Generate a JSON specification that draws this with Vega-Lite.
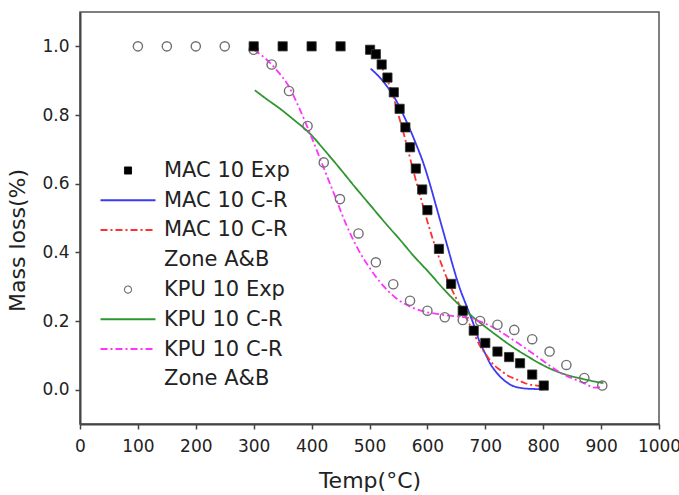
{
  "$schema": "https://vega.github.io/schema/vega-lite/v6.json",
  "width": 579,
  "height": 412,
  "autosize": "none",
  "padding": {"left": 80, "top": 12, "right": 20, "bottom": 71},
  "background": "white",
  "config": {
    "font": "DejaVu Sans",
    "view": {"stroke": "#555", "strokeWidth": 1.5},
    "axis": {
      "grid": false,
      "domainColor": "#444",
      "domainWidth": 2,
      "tickColor": "#444",
      "tickWidth": 1.5,
      "tickSize": 5,
      "labelFont": "DejaVu Sans",
      "labelFontSize": 17,
      "labelColor": "#222",
      "titleFont": "DejaVu Sans",
      "titleFontSize": 22,
      "titleFontWeight": "normal",
      "titleColor": "#222"
    }
  },
  "datasets": {
    "pts": [
      {"series": "MAC 10 Exp", "temp": 300, "mass": 1.0},
      {"series": "MAC 10 Exp", "temp": 350, "mass": 1.0},
      {"series": "MAC 10 Exp", "temp": 400, "mass": 1.0},
      {"series": "MAC 10 Exp", "temp": 450, "mass": 1.0},
      {"series": "MAC 10 Exp", "temp": 501, "mass": 0.99},
      {"series": "MAC 10 Exp", "temp": 511, "mass": 0.977},
      {"series": "MAC 10 Exp", "temp": 521, "mass": 0.947},
      {"series": "MAC 10 Exp", "temp": 531, "mass": 0.909},
      {"series": "MAC 10 Exp", "temp": 542, "mass": 0.866},
      {"series": "MAC 10 Exp", "temp": 552, "mass": 0.818},
      {"series": "MAC 10 Exp", "temp": 562, "mass": 0.764},
      {"series": "MAC 10 Exp", "temp": 570, "mass": 0.706},
      {"series": "MAC 10 Exp", "temp": 580, "mass": 0.644},
      {"series": "MAC 10 Exp", "temp": 591, "mass": 0.583},
      {"series": "MAC 10 Exp", "temp": 600, "mass": 0.523},
      {"series": "MAC 10 Exp", "temp": 620, "mass": 0.41},
      {"series": "MAC 10 Exp", "temp": 641, "mass": 0.308},
      {"series": "MAC 10 Exp", "temp": 661, "mass": 0.23},
      {"series": "MAC 10 Exp", "temp": 680, "mass": 0.172},
      {"series": "MAC 10 Exp", "temp": 700, "mass": 0.136},
      {"series": "MAC 10 Exp", "temp": 721, "mass": 0.111},
      {"series": "MAC 10 Exp", "temp": 741, "mass": 0.095},
      {"series": "MAC 10 Exp", "temp": 760, "mass": 0.077},
      {"series": "MAC 10 Exp", "temp": 781, "mass": 0.044},
      {"series": "MAC 10 Exp", "temp": 801, "mass": 0.012}
    ],
    "circ": [
      {"series": "KPU 10 Exp", "temp": 100, "mass": 1.0},
      {"series": "KPU 10 Exp", "temp": 150, "mass": 1.0},
      {"series": "KPU 10 Exp", "temp": 200, "mass": 1.0},
      {"series": "KPU 10 Exp", "temp": 250, "mass": 1.0},
      {"series": "KPU 10 Exp", "temp": 300, "mass": 0.99},
      {"series": "KPU 10 Exp", "temp": 331, "mass": 0.947},
      {"series": "KPU 10 Exp", "temp": 361, "mass": 0.87},
      {"series": "KPU 10 Exp", "temp": 393, "mass": 0.768},
      {"series": "KPU 10 Exp", "temp": 421, "mass": 0.662},
      {"series": "KPU 10 Exp", "temp": 449, "mass": 0.555},
      {"series": "KPU 10 Exp", "temp": 481, "mass": 0.455},
      {"series": "KPU 10 Exp", "temp": 511, "mass": 0.371},
      {"series": "KPU 10 Exp", "temp": 541, "mass": 0.307},
      {"series": "KPU 10 Exp", "temp": 570, "mass": 0.259},
      {"series": "KPU 10 Exp", "temp": 600, "mass": 0.23},
      {"series": "KPU 10 Exp", "temp": 630, "mass": 0.211},
      {"series": "KPU 10 Exp", "temp": 661, "mass": 0.203},
      {"series": "KPU 10 Exp", "temp": 691, "mass": 0.2},
      {"series": "KPU 10 Exp", "temp": 721, "mass": 0.189},
      {"series": "KPU 10 Exp", "temp": 750, "mass": 0.174},
      {"series": "KPU 10 Exp", "temp": 781, "mass": 0.147},
      {"series": "KPU 10 Exp", "temp": 811, "mass": 0.111},
      {"series": "KPU 10 Exp", "temp": 840, "mass": 0.072},
      {"series": "KPU 10 Exp", "temp": 871, "mass": 0.034},
      {"series": "KPU 10 Exp", "temp": 902, "mass": 0.012}
    ],
    "lines": [
      {"series": "MAC 10 C-R", "temp": 502, "mass": 0.935},
      {"series": "MAC 10 C-R", "temp": 520, "mass": 0.905},
      {"series": "MAC 10 C-R", "temp": 535, "mass": 0.872},
      {"series": "MAC 10 C-R", "temp": 550, "mass": 0.83},
      {"series": "MAC 10 C-R", "temp": 560, "mass": 0.795},
      {"series": "MAC 10 C-R", "temp": 570, "mass": 0.758},
      {"series": "MAC 10 C-R", "temp": 580, "mass": 0.717},
      {"series": "MAC 10 C-R", "temp": 593, "mass": 0.66},
      {"series": "MAC 10 C-R", "temp": 605, "mass": 0.595},
      {"series": "MAC 10 C-R", "temp": 615, "mass": 0.535},
      {"series": "MAC 10 C-R", "temp": 625, "mass": 0.475},
      {"series": "MAC 10 C-R", "temp": 635, "mass": 0.415},
      {"series": "MAC 10 C-R", "temp": 645, "mass": 0.355},
      {"series": "MAC 10 C-R", "temp": 655, "mass": 0.3},
      {"series": "MAC 10 C-R", "temp": 668, "mass": 0.242},
      {"series": "MAC 10 C-R", "temp": 679, "mass": 0.194},
      {"series": "MAC 10 C-R", "temp": 691, "mass": 0.136},
      {"series": "MAC 10 C-R", "temp": 700, "mass": 0.105},
      {"series": "MAC 10 C-R", "temp": 708, "mass": 0.077},
      {"series": "MAC 10 C-R", "temp": 717, "mass": 0.055},
      {"series": "MAC 10 C-R", "temp": 725, "mass": 0.039},
      {"series": "MAC 10 C-R", "temp": 735, "mass": 0.024},
      {"series": "MAC 10 C-R", "temp": 745, "mass": 0.013},
      {"series": "MAC 10 C-R", "temp": 758, "mass": 0.006},
      {"series": "MAC 10 C-R", "temp": 771, "mass": 0.003},
      {"series": "MAC 10 C-R", "temp": 785, "mass": 0.002},
      {"series": "MAC 10 C-R", "temp": 800, "mass": 0.001},
      {"series": "MAC 10 C-R Zone A&B", "temp": 498, "mass": 0.993},
      {"series": "MAC 10 C-R Zone A&B", "temp": 510, "mass": 0.975},
      {"series": "MAC 10 C-R Zone A&B", "temp": 520, "mass": 0.945},
      {"series": "MAC 10 C-R Zone A&B", "temp": 530, "mass": 0.905},
      {"series": "MAC 10 C-R Zone A&B", "temp": 540, "mass": 0.86},
      {"series": "MAC 10 C-R Zone A&B", "temp": 550, "mass": 0.8},
      {"series": "MAC 10 C-R Zone A&B", "temp": 560, "mass": 0.74},
      {"series": "MAC 10 C-R Zone A&B", "temp": 570, "mass": 0.675},
      {"series": "MAC 10 C-R Zone A&B", "temp": 580, "mass": 0.61},
      {"series": "MAC 10 C-R Zone A&B", "temp": 590, "mass": 0.55},
      {"series": "MAC 10 C-R Zone A&B", "temp": 600, "mass": 0.49},
      {"series": "MAC 10 C-R Zone A&B", "temp": 610, "mass": 0.435},
      {"series": "MAC 10 C-R Zone A&B", "temp": 620, "mass": 0.385},
      {"series": "MAC 10 C-R Zone A&B", "temp": 630, "mass": 0.34},
      {"series": "MAC 10 C-R Zone A&B", "temp": 640, "mass": 0.3},
      {"series": "MAC 10 C-R Zone A&B", "temp": 650, "mass": 0.265},
      {"series": "MAC 10 C-R Zone A&B", "temp": 660, "mass": 0.23},
      {"series": "MAC 10 C-R Zone A&B", "temp": 670, "mass": 0.2},
      {"series": "MAC 10 C-R Zone A&B", "temp": 680, "mass": 0.165},
      {"series": "MAC 10 C-R Zone A&B", "temp": 690, "mass": 0.13},
      {"series": "MAC 10 C-R Zone A&B", "temp": 702, "mass": 0.1},
      {"series": "MAC 10 C-R Zone A&B", "temp": 713, "mass": 0.075},
      {"series": "MAC 10 C-R Zone A&B", "temp": 725, "mass": 0.058},
      {"series": "MAC 10 C-R Zone A&B", "temp": 740, "mass": 0.04},
      {"series": "MAC 10 C-R Zone A&B", "temp": 754, "mass": 0.03},
      {"series": "MAC 10 C-R Zone A&B", "temp": 770, "mass": 0.018},
      {"series": "MAC 10 C-R Zone A&B", "temp": 789, "mass": 0.012},
      {"series": "MAC 10 C-R Zone A&B", "temp": 803, "mass": 0.01},
      {"series": "KPU 10 C-R", "temp": 302, "mass": 0.872},
      {"series": "KPU 10 C-R", "temp": 325, "mass": 0.843},
      {"series": "KPU 10 C-R", "temp": 345, "mass": 0.819},
      {"series": "KPU 10 C-R", "temp": 370, "mass": 0.785},
      {"series": "KPU 10 C-R", "temp": 397, "mass": 0.746},
      {"series": "KPU 10 C-R", "temp": 420, "mass": 0.702},
      {"series": "KPU 10 C-R", "temp": 449, "mass": 0.644},
      {"series": "KPU 10 C-R", "temp": 475, "mass": 0.59},
      {"series": "KPU 10 C-R", "temp": 500, "mass": 0.54},
      {"series": "KPU 10 C-R", "temp": 530, "mass": 0.48},
      {"series": "KPU 10 C-R", "temp": 553, "mass": 0.436},
      {"series": "KPU 10 C-R", "temp": 575, "mass": 0.392},
      {"series": "KPU 10 C-R", "temp": 604, "mass": 0.339},
      {"series": "KPU 10 C-R", "temp": 628, "mass": 0.293},
      {"series": "KPU 10 C-R", "temp": 650, "mass": 0.255},
      {"series": "KPU 10 C-R", "temp": 670, "mass": 0.224},
      {"series": "KPU 10 C-R", "temp": 691, "mass": 0.195},
      {"series": "KPU 10 C-R", "temp": 718, "mass": 0.16},
      {"series": "KPU 10 C-R", "temp": 745, "mass": 0.127},
      {"series": "KPU 10 C-R", "temp": 775, "mass": 0.095},
      {"series": "KPU 10 C-R", "temp": 806, "mass": 0.066},
      {"series": "KPU 10 C-R", "temp": 835, "mass": 0.046},
      {"series": "KPU 10 C-R", "temp": 864, "mass": 0.033},
      {"series": "KPU 10 C-R", "temp": 885, "mass": 0.025},
      {"series": "KPU 10 C-R", "temp": 904, "mass": 0.019},
      {"series": "KPU 10 C-R Zone A&B", "temp": 300, "mass": 0.99},
      {"series": "KPU 10 C-R Zone A&B", "temp": 320, "mass": 0.965},
      {"series": "KPU 10 C-R Zone A&B", "temp": 340, "mass": 0.93},
      {"series": "KPU 10 C-R Zone A&B", "temp": 360, "mass": 0.885},
      {"series": "KPU 10 C-R Zone A&B", "temp": 380, "mass": 0.815},
      {"series": "KPU 10 C-R Zone A&B", "temp": 400, "mass": 0.735},
      {"series": "KPU 10 C-R Zone A&B", "temp": 420, "mass": 0.65},
      {"series": "KPU 10 C-R Zone A&B", "temp": 440, "mass": 0.565},
      {"series": "KPU 10 C-R Zone A&B", "temp": 460, "mass": 0.48},
      {"series": "KPU 10 C-R Zone A&B", "temp": 480, "mass": 0.41},
      {"series": "KPU 10 C-R Zone A&B", "temp": 500, "mass": 0.355},
      {"series": "KPU 10 C-R Zone A&B", "temp": 520, "mass": 0.31},
      {"series": "KPU 10 C-R Zone A&B", "temp": 547, "mass": 0.265},
      {"series": "KPU 10 C-R Zone A&B", "temp": 580, "mass": 0.235},
      {"series": "KPU 10 C-R Zone A&B", "temp": 627, "mass": 0.218},
      {"series": "KPU 10 C-R Zone A&B", "temp": 674, "mass": 0.208},
      {"series": "KPU 10 C-R Zone A&B", "temp": 708, "mass": 0.186},
      {"series": "KPU 10 C-R Zone A&B", "temp": 748, "mass": 0.145},
      {"series": "KPU 10 C-R Zone A&B", "temp": 789, "mass": 0.097},
      {"series": "KPU 10 C-R Zone A&B", "temp": 829, "mass": 0.05},
      {"series": "KPU 10 C-R Zone A&B", "temp": 869, "mass": 0.02},
      {"series": "KPU 10 C-R Zone A&B", "temp": 890, "mass": 0.006},
      {"series": "KPU 10 C-R Zone A&B", "temp": 900, "mass": 0.008}
    ]
  },
  "encoding": {
    "x": {
      "field": "temp", "type": "quantitative",
      "scale": {"domain": [0, 1000], "nice": false},
      "axis": {"title": "Temp(°C)", "values": [0,100,200,300,400,500,600,700,800,900,1000], "format": "d", "labelPadding": 9, "titlePadding": 16, "labelFlush": false}
    },
    "y": {
      "field": "mass", "type": "quantitative",
      "scale": {"domain": [-0.1, 1.1], "nice": false, "zero": false},
      "axis": {"title": "Mass loss(%)", "values": [0, 0.2, 0.4, 0.6, 0.8, 1.0], "format": ".1f", "labelPadding": 6, "titlePadding": 12, "titleY": 228}
    },
    "color": {
      "field": "series", "type": "nominal",
      "scale": {
        "domain": ["MAC 10 Exp", "MAC 10 C-R", "MAC 10 C-R Zone A&B", "KPU 10 Exp", "KPU 10 C-R", "KPU 10 C-R Zone A&B"],
        "range": ["#000000", "#3b3bf5", "#ff3030", "#707070", "#2e962e", "#ff33ff"]
      },
      "legend": {
        "title": null,
        "orient": "none",
        "legendX": 37.5,
        "legendY": 148,
        "padding": 0,
        "rowPadding": 8.7,
        "symbolSize": 3025,
        "symbolStrokeWidth": 2,
        "labelOffset": 25.5,
        "labelFont": "DejaVu Sans",
        "labelFontSize": 21,
        "labelColor": "#222",
        "labelLimit": 300,
        "labelExpr": "indexof(datum.label, 'Zone') >= 0 ? [replace(datum.label, ' Zone A&B', ''), 'Zone A&B'] : datum.label",
        "encode": {
          "symbols": {
            "update": {
              "shape": {"signal": "datum.value == 'MAC 10 Exp' ? 'square' : datum.value == 'KPU 10 Exp' ? 'circle' : 'stroke'"},
              "size": {"signal": "datum.value == 'MAC 10 Exp' ? 50 : datum.value == 'KPU 10 Exp' ? 50 : 3025"},
              "fill": {"signal": "datum.value == 'MAC 10 Exp' ? '#000' : '#fff'"},
              "fillOpacity": {"signal": "datum.value == 'MAC 10 Exp' ? 1 : 0"},
              "stroke": {"signal": "datum.value == 'MAC 10 Exp' ? '#000' : datum.value == 'KPU 10 Exp' ? '#707070' : datum.value == 'MAC 10 C-R' ? '#3b3bf5' : datum.value == 'MAC 10 C-R Zone A&B' ? '#ff3030' : datum.value == 'KPU 10 C-R' ? '#2e962e' : '#ff33ff'"},
              "strokeWidth": {"signal": "datum.value == 'KPU 10 Exp' ? 1.1 : datum.value == 'MAC 10 Exp' ? 1 : 2"},
              "strokeDash": {"signal": "indexof(datum.value, 'Zone') >= 0 ? [7, 3, 2, 3] : [1, 0]"},
              "opacity": {"value": 1}
            }
          },
          "labels": {"update": {"lineHeight": {"value": 29.7}, "baseline": {"value": "top"}, "dy": {"value": -10.5}}}
        }
      }
    }
  },
  "layer": [
    {
      "data": {"name": "lines"},
      "mark": {"type": "line", "strokeWidth": 1.8, "interpolate": "monotone"},
      "encoding": {
        "detail": {"field": "series"},
        "strokeDash": {
          "field": "series", "type": "nominal",
          "scale": {"domain": ["MAC 10 C-R", "MAC 10 C-R Zone A&B", "KPU 10 C-R", "KPU 10 C-R Zone A&B"], "range": [[1, 0], [7, 3, 2, 3], [1, 0], [7, 3, 2, 3]]},
          "legend": null
        }
      }
    },
    {
      "data": {"name": "circ"},
      "mark": {"type": "point", "shape": "circle", "filled": false, "size": 85, "strokeWidth": 1.4, "opacity": 1}
    },
    {
      "data": {"name": "pts"},
      "mark": {"type": "point", "shape": "square", "filled": true, "size": 85, "stroke": "#333", "strokeWidth": 0.8, "opacity": 1}
    }
  ]
}
